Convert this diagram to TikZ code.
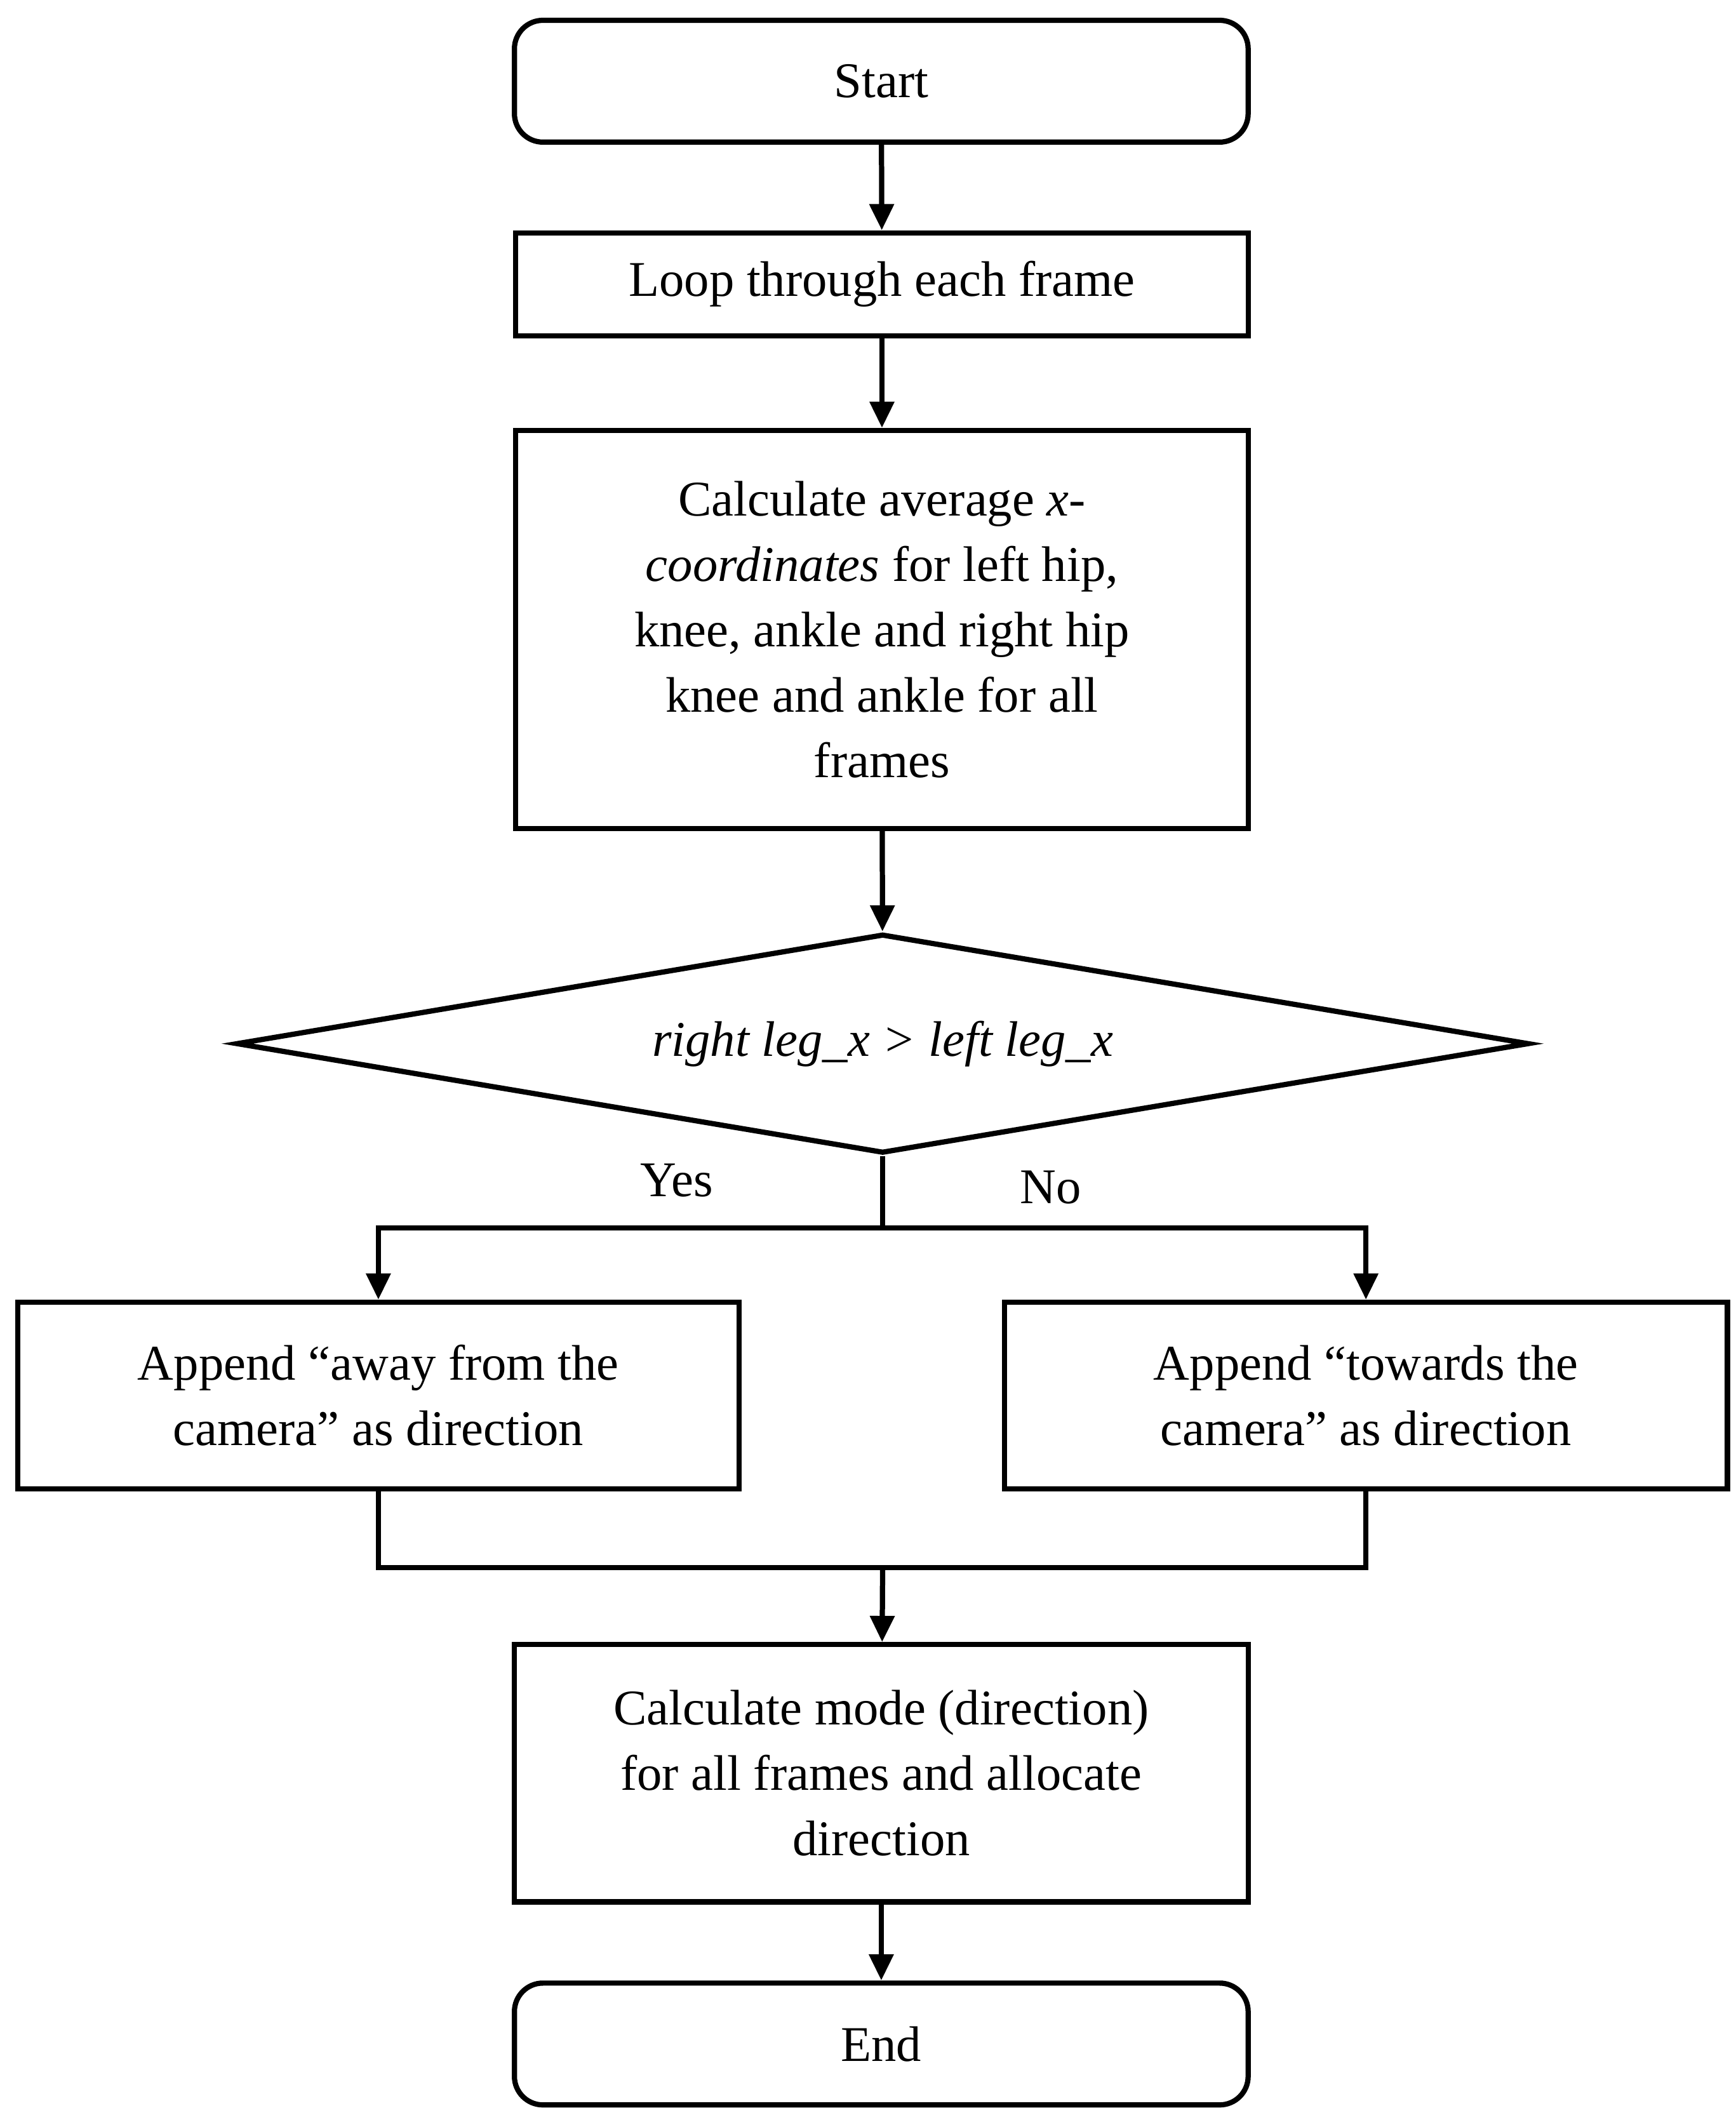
\documentclass[tikz,border=0pt]{standalone}
\usepackage{fontspec}
\setmainfont{Liberation Serif}
\usetikzlibrary{arrows.meta,shapes.geometric}
\begin{document}
\begin{tikzpicture}[x=0.02cm,y=-0.02cm,
  every node/.style={font=\fontsize{21}{27.5}\selectfont},
  box/.style={draw,line width=2.2pt,align=center,inner sep=0pt},
  term/.style={box,rounded corners=12pt},
  ln/.style={line width=2.2pt},
  ar/.style={ln,-{Triangle[length=11pt,width=10pt]}}]
\useasboundingbox (0,0) rectangle (1282,1561);
\node[term,minimum width=542*0.02cm,minimum height=90*0.02cm] (start) at (651,60) {Start};
\node[box,minimum width=541*0.02cm,minimum height=76*0.02cm] (loop) at (651.5,210) {Loop through each frame};
\node[box,minimum width=541*0.02cm,minimum height=294*0.02cm] (calc) at (651.5,465) {Calculate average \textit{x-}\\\textit{coordinates} for left hip,\\knee, ankle and right hip\\knee and ankle for all\\frames};
\node[diamond,draw,line width=2.2pt,aspect=5.9,minimum width=955*0.02cm,minimum height=162*0.02cm,inner sep=0pt] (dec) at (652,771) {\textit{right leg\_x > left leg\_x}};
\node (yes) at (500,872) {Yes};
\node (no) at (776,877) {No};
\node[box,minimum width=533*0.02cm,minimum height=138*0.02cm] (away) at (279.5,1031) {Append “away from the\\camera” as direction};
\node[box,minimum width=534*0.02cm,minimum height=138*0.02cm] (tow) at (1009,1031) {Append “towards the\\camera” as direction};
\node[box,minimum width=542*0.02cm,minimum height=190*0.02cm] (mode) at (651,1310) {Calculate mode (direction)\\for all frames and allocate\\direction};
\node[term,minimum width=542*0.02cm,minimum height=90*0.02cm] (end) at (651,1510) {End};
\coordinate (split) at (652,907);
\coordinate (merge) at (652,1158);
\draw[ar] (start) -- (loop);
\draw[ar] (loop) -- (calc);
\draw[ar] (calc) -- (dec);
\draw[ln] (dec.south) -- (split);
\draw[ar] (split) -| (away.north);
\draw[ar] (split) -| (tow.north);
\draw[ln] (away.south) |- (merge);
\draw[ln] (tow.south) |- (merge);
\draw[ar] (merge) -- (mode);
\draw[ar] (mode) -- (end);
\end{tikzpicture}
\end{document}
